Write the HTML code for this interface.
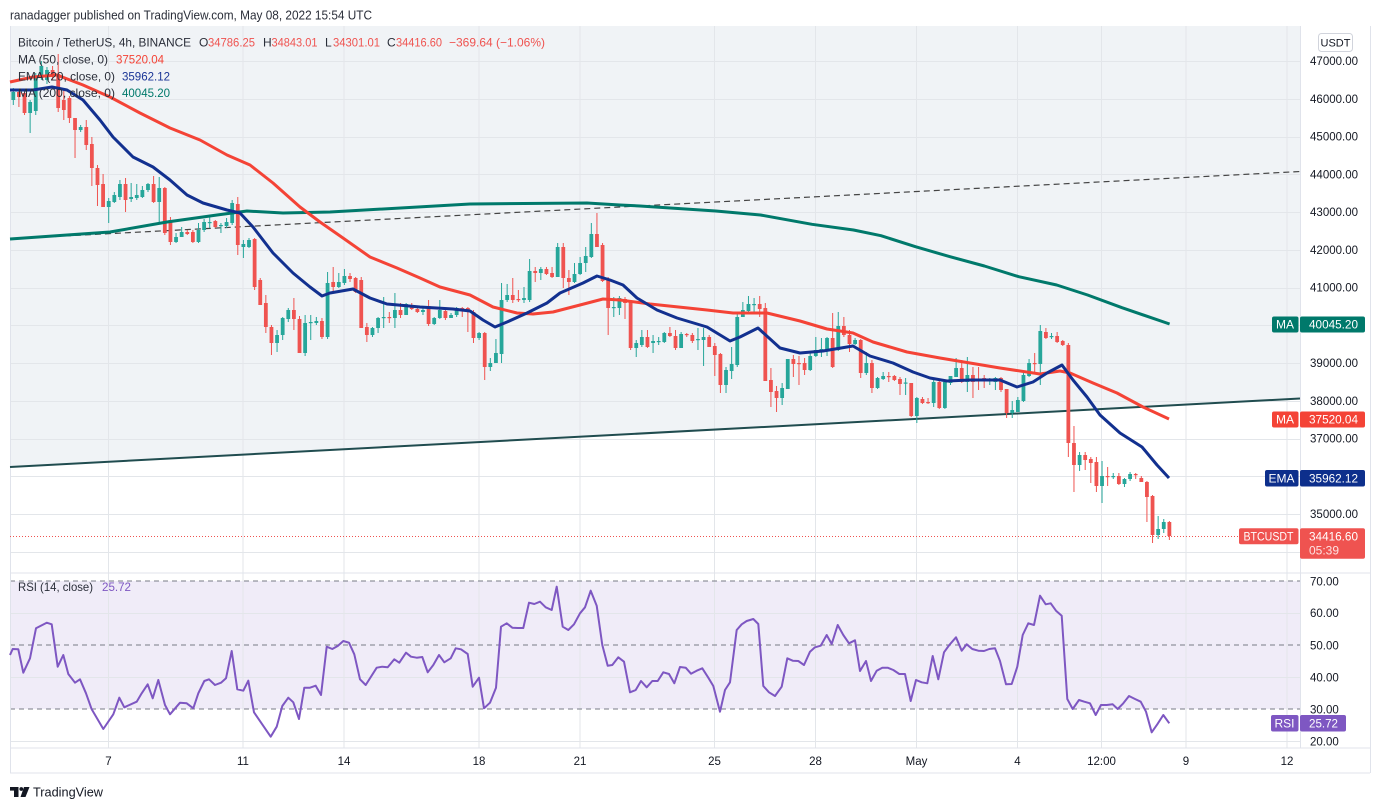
<!DOCTYPE html>
<html><head><meta charset="utf-8">
<style>
html,body{margin:0;padding:0;background:#fff;}
svg{display:block;font-family:"Liberation Sans",Arial,sans-serif;}
</style></head>
<body>
<svg id="c" width="1380" height="810" viewBox="0 0 1380 810" xmlns="http://www.w3.org/2000/svg">
<rect width="1380" height="810" fill="#fff"/>
<polygon points="10,26 1300,26 1300,398.5 10,467" fill="#f0f3f6"/>
<rect x="10" y="581" width="1290" height="128" fill="#f0ecf8"/>
<g id="grid" stroke="#e3e6ea" stroke-width="1"></g>
<g stroke="#787b86" stroke-width="1" stroke-dasharray="5,4">
<line x1="10" y1="581" x2="1300" y2="581"/>
<line x1="10" y1="645" x2="1300" y2="645"/>
<line x1="10" y1="709" x2="1300" y2="709"/>
</g>
<g stroke="#e0e3eb" stroke-width="1" fill="none">
<line x1="10.5" y1="26" x2="10.5" y2="773"/>
<line x1="1300.5" y1="26" x2="1300.5" y2="748"/>
<line x1="1370.5" y1="26" x2="1370.5" y2="773"/>
<line x1="10" y1="573" x2="1370" y2="573"/>
<line x1="10" y1="748" x2="1370" y2="748"/>
<line x1="10" y1="773" x2="1370" y2="773"/>
</g>
<line x1="10" y1="467" x2="1300" y2="398.5" stroke="#204c4f" stroke-width="2"/>
<line x1="45" y1="237" x2="1300" y2="171.5" stroke="#444" stroke-width="1.2" stroke-dasharray="6,4"/>
<line x1="10" y1="536.5" x2="1239" y2="536.5" stroke="#ef5350" stroke-width="1" stroke-dasharray="1,2"/>
<g id="candles"></g>
<polyline fill="none" stroke="#00796b" stroke-width="3" stroke-linejoin="round" points="10,239 110,232 167,222 217,215 247,211 283,213 330,212 470,204 587,203 620,205 640,206 715.8,211 760.5,215 812,224.3 853.5,230 881,235.7 915.5,246.7 950,256.7 984.4,266 1018.8,276.7 1056.7,285 1087.6,295 1122,307.7 1169.6,324"/>
<polyline fill="none" stroke="#f44336" stroke-width="3" stroke-linejoin="round" points="10,82 33,77 57,75 83,85 110,97 140,113 170,128 200,140 227,155 250,165 273,183 300,207 320,222 343,238 370,257 397,268 420,278 440,287 470,295 493,307 517,313 533,314 553,312 580,305 603,299 620,300 650,304 707,310 733,313 767,313 800,321 827,329 853,333 873,342 907,352 940,358 970,363 1000,368 1040,374 1060,371 1070,373 1093,383 1117,393 1143,407 1169,419"/>
<polyline fill="none" stroke="#12308f" stroke-width="3" stroke-linejoin="round" points="10,90 33,90 52,87 67,90 83,100 100,120 113,137 133,157 153,167 170,180 187,195 203,203 227,210 240,213 253,227 273,253 293,273 310,287 322,296 330,293 353,289 370,298 387,304 420,307 453,309 470,311 483,320 495,327 507,322 527,313 547,303 560,293 583,283 597,276 610,280 623,285 637,298 657,310 677,318 707,327 730,341 740,337 758,328 780,348 800,353 823,351 853,346 870,356 893,363 913,372 930,378 947,381 970,380 1000,380 1017,387 1033,382 1047,373 1062,365 1073,380 1087,397 1100,415 1120,433 1142,447 1157,465 1169,478"/>
<polyline fill="none" stroke="#7e57c2" stroke-width="2" stroke-linejoin="round" points="10,655 12.7,649 18.3,649.3 23.3,672.7 30,658.3 36,628.3 46.7,622.7 51.7,624.3 57.7,666.7 63.3,655 68.3,674 75,682.7 80,679.3 86,693.3 91.7,709.3 103.3,729 113.3,714.3 119.3,697.7 124.3,707.3 136.7,701.7 141.7,693.3 147.7,684.3 152.7,698.3 158.3,680 165,705 170,714.3 180,702.7 186.7,703.3 193.3,708.3 198.3,693.3 204.3,681 209,679.3 215,685 221,682.7 226,678.3 231.7,651 237.3,689.3 243.3,690.7 248.3,680.7 254,712.3 270.7,736.7 276.7,726.7 282.3,706 288.3,697.7 293.3,702.3 299,719 304.3,687.7 310,687.7 315.7,685.7 321,695 326.7,646.7 332.3,649 337.7,646 343.3,641 349,642.7 354.3,654.3 360,679.3 365.7,685 376.7,667.7 382.3,666.7 387.7,667.3 394.3,659.3 399.3,662.7 406,652.7 411,656.7 416.7,657.7 422.3,657 427.7,672.3 433.3,665 439,655 444.3,662.3 450.7,658.3 455.7,648.3 461,649.3 467.7,654 472.7,686.7 479,677.7 484,708.3 490,702.7 496,687.7 501,626.7 506.7,623.3 512.3,627.7 517.7,628 523.3,628 529,602.7 534.3,604 540,601.7 545.7,607.3 551.7,610 556.7,586.7 562.7,626.7 568.3,630 574,624.3 580,613.3 585,607.3 590.7,590.7 596.7,605.7 602.3,645 607.7,665.7 612.3,665 618.3,657.3 624,661.7 630,692.3 635.7,690 641,681 646.7,687.3 652.3,681 657.7,681 663.3,672.3 669,674 674.3,683.3 680,667 685.7,667.7 691,673.7 696.7,670.7 702.3,668.3 708.3,677.7 713.3,686 720,711.7 725,690 730,682.3 736.7,630 741.7,624.3 746.7,621 753.3,619 758.3,624 763.3,686 769,692.3 775,696 781.7,686.7 787.3,658.3 792.7,660.7 798.3,661 804,665 810,651.7 815,647.3 820.7,645.7 826.7,635 831.7,644 837.7,625 843.3,635 849,643.3 855,640.3 860,671 866,661 871,681 876.7,670.7 882.3,667.7 887.7,667.7 893.3,670 899.3,674 905,674 910.7,701 916,680 921.7,682.3 927.3,683.3 932.7,656 938.3,679.3 944,652.3 949.3,645 956,637.3 961.7,650.7 966.7,644.3 972.3,649 978.3,650.7 984,651 989.3,649 995,648.3 1000,661 1006,684.3 1011.7,684 1017.3,666.7 1022.7,635 1028.3,623.3 1034,625 1040,595.7 1045.7,604.3 1050.7,603.3 1056,610.7 1061.7,615.7 1067.3,699 1072.7,709 1079,700 1084.3,701.7 1090,703.3 1095.7,715 1101,705 1106.7,705 1112.7,704.3 1117.7,709 1123.3,703.3 1129,696 1135,699 1140.7,701.7 1146,711.7 1151.7,732.3 1157.3,724.3 1163.3,715 1169.3,723.3"/>

<!-- header & legend -->
<text x="10" y="19.5" font-size="12.5" fill="#2a2e39" textLength="362" lengthAdjust="spacingAndGlyphs">ranadagger published on TradingView.com, May 08, 2022 15:54 UTC</text>
<g font-size="12">
<text x="18" y="46.5" fill="#2a2e39" textLength="173" lengthAdjust="spacingAndGlyphs">Bitcoin / TetherUS, 4h, BINANCE</text>
<text x="199" y="46.5" fill="#2a2e39">O</text><text x="208" y="46.5" fill="#ef5350" textLength="47" lengthAdjust="spacingAndGlyphs">34786.25</text>
<text x="263" y="46.5" fill="#2a2e39">H</text><text x="271.5" y="46.5" fill="#ef5350" textLength="46" lengthAdjust="spacingAndGlyphs">34843.01</text>
<text x="325" y="46.5" fill="#2a2e39">L</text><text x="333" y="46.5" fill="#ef5350" textLength="47" lengthAdjust="spacingAndGlyphs">34301.01</text>
<text x="387" y="46.5" fill="#2a2e39">C</text><text x="396" y="46.5" fill="#ef5350" textLength="46" lengthAdjust="spacingAndGlyphs">34416.60</text>
<text x="449" y="46.5" fill="#ef5350" textLength="96" lengthAdjust="spacingAndGlyphs">−369.64 (−1.06%)</text>
<text x="18" y="63.5" fill="#2a2e39" textLength="90" lengthAdjust="spacingAndGlyphs">MA (50, close, 0)</text>
<text x="116" y="63.5" fill="#f44336" textLength="48" lengthAdjust="spacingAndGlyphs">37520.04</text>
<text x="18" y="80.5" fill="#2a2e39" textLength="97" lengthAdjust="spacingAndGlyphs">EMA (20, close, 0)</text>
<text x="122" y="80.5" fill="#1a3596" textLength="48" lengthAdjust="spacingAndGlyphs">35962.12</text>
<text x="18" y="97" fill="#2a2e39" textLength="97" lengthAdjust="spacingAndGlyphs">MA (200, close, 0)</text>
<text x="122" y="97" fill="#00796b" textLength="48" lengthAdjust="spacingAndGlyphs">40045.20</text>
<text x="18" y="591" fill="#2a2e39" textLength="75" lengthAdjust="spacingAndGlyphs">RSI (14, close)</text>
<text x="102" y="591" fill="#7e57c2" textLength="29" lengthAdjust="spacingAndGlyphs">25.72</text>
</g>

<!-- price axis -->
<rect x="1318.5" y="33.5" width="34" height="18" rx="3" fill="#fff" stroke="#d1d4dc"/>
<text x="1335.5" y="46.5" font-size="11" fill="#131722" text-anchor="middle">USDT</text>
<g font-size="11.5" fill="#131722" text-anchor="end">
<text x="1358" y="65">47000.00</text>
<text x="1358" y="102.75">46000.00</text>
<text x="1358" y="140.5">45000.00</text>
<text x="1358" y="178.25">44000.00</text>
<text x="1358" y="216">43000.00</text>
<text x="1358" y="253.75">42000.00</text>
<text x="1358" y="291.5">41000.00</text>
<text x="1358" y="367">39000.00</text>
<text x="1358" y="404.75">38000.00</text>
<text x="1358" y="442.5">37000.00</text>
<text x="1358" y="518">35000.00</text>
</g>
<g font-size="11.5" fill="#131722">
<text x="1310" y="585.7">70.00</text>
<text x="1310" y="617">60.00</text>
<text x="1310" y="649.7">50.00</text>
<text x="1310" y="681.7">40.00</text>
<text x="1310" y="713.7">30.00</text>
<text x="1310" y="745.7">20.00</text>
</g>

<!-- tags -->
<g font-size="12" fill="#fff">
<rect x="1272" y="316.5" width="26.5" height="16" rx="2" fill="#00796b"/>
<text x="1285" y="328.5" text-anchor="middle">MA</text>
<rect x="1300" y="316.5" width="65" height="16" rx="2" fill="#00796b"/>
<text x="1309" y="328.5" textLength="49" lengthAdjust="spacingAndGlyphs">40045.20</text>

<rect x="1272" y="411.5" width="26.5" height="16" rx="2" fill="#f44336"/>
<text x="1285" y="423.5" text-anchor="middle">MA</text>
<rect x="1300" y="411.5" width="65" height="16" rx="2" fill="#f44336"/>
<text x="1309" y="423.5" textLength="49" lengthAdjust="spacingAndGlyphs">37520.04</text>

<rect x="1265" y="470" width="33.5" height="16.5" rx="2" fill="#0d2f8c"/>
<text x="1281.5" y="482.3" text-anchor="middle">EMA</text>
<rect x="1300" y="470" width="65" height="16.5" rx="2" fill="#0d2f8c"/>
<text x="1309" y="482.3" textLength="49" lengthAdjust="spacingAndGlyphs">35962.12</text>

<rect x="1239" y="528.3" width="59.5" height="16" rx="2" fill="#ef5350"/>
<text x="1268.5" y="540.5" text-anchor="middle" textLength="50" lengthAdjust="spacingAndGlyphs">BTCUSDT</text>
<rect x="1300" y="528.3" width="65" height="30.5" rx="2" fill="#ef5350"/>
<text x="1309" y="540.5" textLength="49" lengthAdjust="spacingAndGlyphs">34416.60</text>
<text x="1309" y="554.5" fill="#fde2e2" textLength="30" lengthAdjust="spacingAndGlyphs">05:39</text>

<rect x="1271" y="715" width="27.5" height="16.5" rx="2" fill="#7e57c2"/>
<text x="1284.5" y="727.5" text-anchor="middle">RSI</text>
<rect x="1300" y="715" width="46" height="16.5" rx="2" fill="#7e57c2"/>
<text x="1309" y="727.5" textLength="29" lengthAdjust="spacingAndGlyphs">25.72</text>
</g>

<!-- time axis -->
<g font-size="11.5" fill="#131722" text-anchor="middle">
<text x="108.5" y="765">7</text>
<text x="243" y="765">11</text>
<text x="344" y="765">14</text>
<text x="479" y="765">18</text>
<text x="580" y="765">21</text>
<text x="714.5" y="765">25</text>
<text x="815.5" y="765">28</text>
<text x="916.5" y="765">May</text>
<text x="1017.5" y="765">4</text>
<text x="1101.5" y="765">12:00</text>
<text x="1186" y="765">9</text>
<text x="1287" y="765">12</text>
</g>

<!-- logo -->
<g fill="#131722">
<rect x="10" y="787" width="8.5" height="3.6"/>
<rect x="14" y="787" width="4.5" height="10"/>
<circle cx="21.3" cy="789" r="1.9"/>
<polygon points="24,787 29.5,787 25.5,797 20.5,797"/>
</g>
<text x="33" y="796.5" font-size="13" fill="#131722" textLength="70" lengthAdjust="spacingAndGlyphs">TradingView</text>
</svg>
<script>
(function(){
var NS="http://www.w3.org/2000/svg";
var g=document.getElementById("grid");
function ln(p,x1,y1,x2,y2){var l=document.createElementNS(NS,"line");l.setAttribute("x1",x1);l.setAttribute("y1",y1);l.setAttribute("x2",x2);l.setAttribute("y2",y2);p.appendChild(l);}
for(var k=0;k<14;k++){var y=Math.round(61+k*37.75)+0.5;ln(g,10,y,1300,y);}
[613,677,741].forEach(function(y){ln(g,10,y+0.5,1300,y+0.5);});
[108.5,243,344,479,580,714.5,815.5,916.5,1017.5,1101.5,1186,1287].forEach(function(x){ln(g,x,26,x,748);});
var C=[[100,92,88,105],[92,97,90,107],[93,113,91,115],[113,102,100,133],[111,78,73,115],[78,66,61,80],[80,70,67,84],[70,75,66,80],[74,108,54,112],[100,110,88,120],[98,118,96,123],[118,130,118,158],[130,127,125,132],[127,145,120,150],[144,168,137,186],[168,185,165,206],[184,207,174,207],[207,201,198,223],[202,195,192,203],[197,184,180,200],[184,200,178,212],[199,197,183,202],[198,195,184,200],[197,190,186,198],[190,184,183,192],[184,202,176,203],[202,188,177,223],[188,233,187,235],[220,242,217,245],[242,237,233,243],[237,232,227,237],[232,234,230,235],[232,242,230,243],[242,230,223,243],[230,222,219,232],[223,222,217,228],[221,227,220,228],[226,225,223,233],[226,222,218,228],[223,203,200,225],[204,245,197,255],[247,244,240,258],[247,240,238,248],[239,287,238,290],[280,305,278,305],[303,327,295,333],[327,343,325,355],[343,335,330,352],[335,318,317,340],[319,310,308,322],[310,319,298,330],[319,353,316,353],[353,323,315,356],[323,322,315,340],[323,321,317,325],[321,337,318,339],[337,283,272,339],
[282,287,267,293],[287,282,273,288],[283,276,269,285],[276,279,273,282],[278,292,277,293],[280,328,277,328],[327,335,323,342],[335,328,327,337],[328,318,317,333],[318,317,297,328],[317,318,312,323],[318,310,293,328],[310,315,303,318],[315,304,303,315],[305,309,303,310],[309,312,308,313],[312,310,307,315],[306,324,300,326],[324,318,317,325],[318,310,300,319],[311,318,309,320],[318,315,313,318],[315,308,307,317],[308,310,307,317],[308,312,307,332],[312,338,310,343],[338,333,332,340],[333,367,332,380],[367,363,358,371],[363,353,339,363],[354,300,283,363],[300,295,284,302],[295,300,278,303],[299,300,290,302],[300,298,287,303],[300,271,259,302],[271,273,267,282],[273,269,267,280],[269,274,267,275],[273,277,267,278],[277,247,243,277],[247,278,243,288],[278,282,270,295],[282,274,263,283],[274,263,257,275],[263,256,247,272],[257,234,223,258],[234,247,213,247],[245,281,243,282],[280,308,277,335],[308,307,297,317],[308,298,296,315],[299,303,297,319],[302,348,302,350],[348,343,340,357],[345,337,330,347],[337,347,330,348],
[343,341,335,353],[342,341,337,345],[342,333,332,343],[333,336,327,337],[336,348,330,350],[348,334,332,348],[334,335,333,337],[335,341,333,343],[340,339,328,350],[340,337,328,366],[337,347,335,347],[346,355,343,376],[354,385,353,393],[385,370,367,393],[371,364,347,379],[365,317,312,367],[317,310,302,317],[311,304,296,313],[305,304,298,313],[304,309,296,317],[308,381,303,381],[380,392,368,407],[391,398,386,412],[398,388,383,405],[389,359,359,389],[359,364,355,377],[363,364,356,385],[363,370,358,375],[370,356,353,371],[356,350,337,357],[352,349,338,357],[350,338,337,356],[338,367,313,368],[350,326,312,351],[326,335,317,337],[335,344,330,352],[344,340,338,345],[340,373,339,378],[373,363,352,375],[363,388,360,393],[388,378,377,389],[379,376,372,380],[376,377,372,382],[376,380,375,381],[379,384,377,395],[383,382.5,378,395],[383,416,383,417],[416,398,397,423],[399,403,397,404],[402,403,398,404],[403,382,380,407],[382,408,381,409],[408,382,380,409],[383,376,376,385],[377,368,358,377],[368,382,360,383],[382,375,357,392],
[375,382,367,398],[379,381,367,390],[378,380,375,388],[381,379,378,385],[382,378,377,390],[378,390,377,392],[389,413,389,418],[413,410,401,418],[412,400,397,412],[401,375,373,402],[376,363,359,377],[363,364,353,374],[364,331,325,385],[332,338,328,339],[337,336,333,339],[336,342,332,343],[341,345,340,346],[345,443,343,457],[443,465,426,492],[465,455,452,471],[455,460,452,470],[459,463,457,483],[462,486,457,492],[486,476,461,503],[476,477,467,486],[477,476,473,479],[476,484,473,485],[484,479,478,487],[479,474,472,481],[474,475,473,479],[478,482,476,482],[482,497,481,522],[496,535,495,543],[535,529,516,539],[529,522,519,533],[522,536,521,540]];
var cg=document.getElementById("candles");
for(var i=0;i<C.length;i++){
 var d=C[i],x=13.3+i*5.612,o=d[0],c=d[1],h=d[2],l=d[3];
 var col=(c<=o)?"#26a69a":"#ef5350";
 var w=document.createElementNS(NS,"line");
 w.setAttribute("x1",x);w.setAttribute("x2",x);w.setAttribute("y1",Math.min(h,o,c));w.setAttribute("y2",Math.max(l,o,c));
 w.setAttribute("stroke",col);w.setAttribute("stroke-width","1");cg.appendChild(w);
 var r=document.createElementNS(NS,"rect");
 var top=Math.min(o,c),ht=Math.max(1.2,Math.abs(o-c));
 r.setAttribute("x",x-1.9);r.setAttribute("y",top);r.setAttribute("width","3.8");r.setAttribute("height",ht);
 r.setAttribute("fill",col);cg.appendChild(r);
}
})();
</script>
</body></html>
